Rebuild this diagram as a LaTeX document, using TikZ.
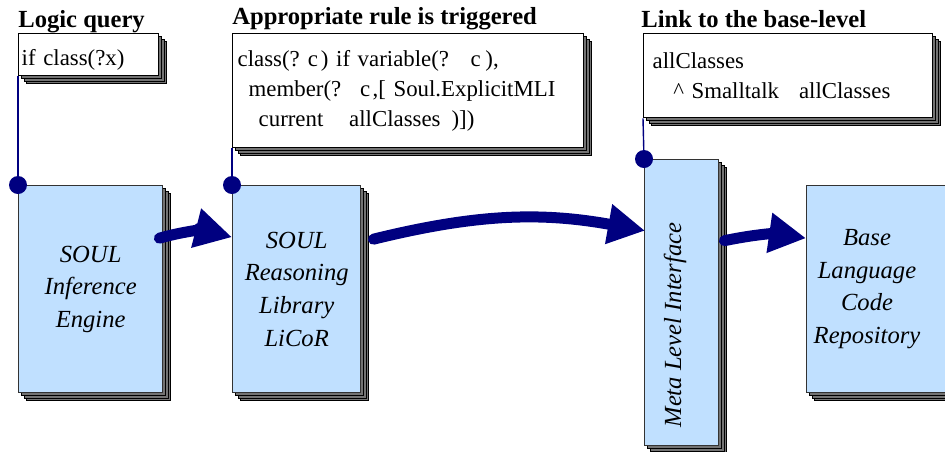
\documentclass[tikz,border=0pt]{standalone}
\usepackage{fontspec}
\setmainfont{Liberation Serif}
\usepackage{xcolor}
\usetikzlibrary{arrows.meta}

\definecolor{boxblue}{RGB}{192,224,255}
\definecolor{linknavy}{RGB}{0,0,128}

\begin{document}
\begin{tikzpicture}[x=0.02cm, y=-0.02cm, font=\fontsize{14}{18.6}\selectfont,
    stack/.style={
        preaction={fill=black!55, draw=black, line width=0.6pt, transform canvas={shift={(8.1,8.1)}}},
        preaction={fill=black!55, draw=black, line width=0.6pt, transform canvas={shift={(5.4,5.4)}}},
        preaction={fill=black!55, draw=black, line width=0.6pt, transform canvas={shift={(2.7,2.7)}}}},
    codebox/.style={draw=black, fill=white, line width=0.8pt, stack, rectangle, anchor=north west, align=left, font=\fontsize{13}{17}\selectfont},
    block/.style={draw=black!80, fill=boxblue, line width=0.8pt, stack, rectangle, anchor=north west, align=center, font=\fontsize{14}{18.6}\selectfont\itshape},
    title/.style={anchor=base west, inner sep=0pt, font=\fontsize{14}{18}\selectfont\bfseries},
    dot/.style={circle, fill=linknavy, inner sep=0pt, minimum size=0.36cm},
    flow/.style={linknavy, line width=0.22cm, line cap=round, -{Triangle[length=0.74cm, width=0.76cm]}}]
    \clip (0,0) rectangle (945,451);

    % titles
    \node[title] (QueryTitle) at (18,27) {Logic query};
    \node[title] (RuleTitle) at (232,24) {Appropriate rule is triggered};
    \node[title] (LinkTitle) at (641,27) {Link to the base-level};

    % code boxes
    \node[codebox, minimum width=2.8cm, minimum height=0.84cm, inner xsep=0.06cm, text width=2.68cm, text height=12pt, text depth=0pt] (Query) at (18,33) {if class(?x)};
    \node[codebox, minimum width=7.02cm, minimum height=2.28cm, inner xsep=0.1cm, text width=6.82cm] (Rule) at (232,33)
        {class(?\hspace{0.35em}c\hspace{0.13em}) if variable(?\hspace{0.95em}c\hspace{0.2em}),\\
         \hspace*{0.48em}member(?\hspace{0.83em}c\hspace{0.1em},[ Soul.ExplicitMLI\\
         \hspace*{0.92em}current\hspace{1.13em}allClasses\hspace{0.48em})])};
    \node[codebox, minimum width=5.78cm, minimum height=1.68cm, inner xsep=0.18cm, text width=5.42cm] (Link) at (643,33)
        {allClasses\\
         \hspace*{0.9em}\textasciicircum\ Smalltalk\hspace{0.87em}allClasses};

    % components
    \node[block, minimum width=2.88cm, minimum height=4.14cm] (Engine) at (18,185) {SOUL\\Inference\\Engine};
    \node[block, minimum width=2.56cm, minimum height=4.14cm] (Library) at (232,185) {SOUL\\Reasoning\\Library\\LiCoR};
    \node[block, minimum width=1.48cm, minimum height=5.72cm] (MLI) at (644,159) {};
    \node[block, minimum width=3.2cm, minimum height=4.14cm] (Base) at (806,185) {};
    \node[rotate=90, font=\fontsize{14}{18}\selectfont\itshape] (MLILabel) at (675,325) {Meta Level Interface};
    \node[align=center, font=\fontsize{14}{18.6}\selectfont\itshape] (BaseLabel) at (867,289) {Base\\Language\\Code\\Repository};

    % links from the code boxes
    \draw[linknavy, line width=0.8pt] (Query.south west) -- (Engine.north west);
    \draw[linknavy, line width=0.8pt] (Rule.south west) -- (Library.north west);
    \draw[linknavy, line width=0.8pt] (Link.south west) -- (MLI.north west);
    \node[dot] (EngineDot) at (Engine.north west) {};
    \node[dot] (LibraryDot) at (Library.north west) {};
    \node[dot] (MLIDot) at (MLI.north west) {};

    % flow
    \draw[flow] ([shift={(-4,-51)}]Engine.east) to[bend left=15] ([shift={(0,-52)}]Library.west);
    \draw[flow] ([shift={(12,-50)}]Library.east) to[bend left=12] ([shift={(1,-72)}]MLI.west);
    \draw[flow] ([shift={(5,-62)}]MLI.east) to[bend left=10] ([shift={(0,-51)}]Base.west);
\end{tikzpicture}
\end{document}
